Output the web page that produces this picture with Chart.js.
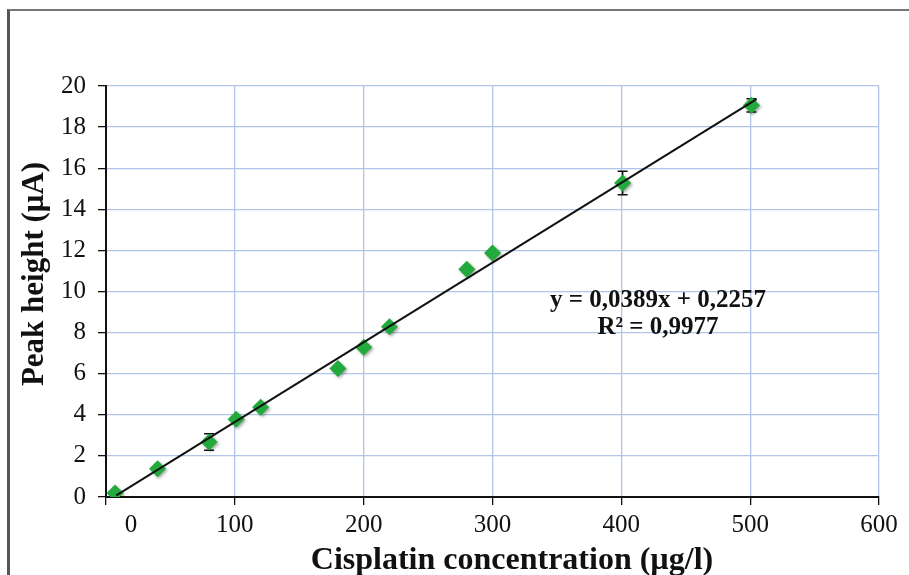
<!DOCTYPE html>
<html>
<head>
<meta charset="utf-8">
<script src="https://cdn.jsdelivr.net/npm/chart.js@4.4.1/dist/chart.umd.min.js"></script>
<style>
  html, body { margin: 0; padding: 0; background: #fff; }
  #wrap { position: relative; width: 909px; height: 575px; overflow: hidden; }
  #frame {
    position: absolute; left: 7px; top: 9px; width: 1000px; height: 700px;
    border-left: 3px solid #555; border-top: 2px solid #777;
  }
  canvas { position: absolute; left: 0; top: 0; }
</style>
</head>
<body>
<div id="wrap">
  <div id="frame"></div>
  <canvas id="calibChart" width="909" height="575"></canvas>
</div>
<script>
// Calibration data
const concentrations = [7, 40, 80, 101, 120, 180, 200, 220, 280, 300, 401, 501];
const peakHeights = [0.19, 1.38, 2.68, 3.78, 4.37, 6.25, 7.29, 8.29, 11.08, 11.87, 15.28, 19.06];
const peakErrors = [0, 0, 0.4, 0, 0, 0, 0, 0, 0, 0, 0.57, 0.32];

// Fitted line end points (as drawn)
const trendX = [8, 505];
const trendY = [0.08, 19.36];

// Axis ticks
const xTicks = [0, 100, 200, 300, 400, 500, 600];
const yTicks = [0, 2, 4, 6, 8, 10, 12, 14, 16, 18, 20];

const equationLines = ['y = 0,0389x + 0,2257', 'R\u00B2 = 0,9977'];
const xTitle = 'Cisplatin concentration (\u00B5g/l)';
const yTitle = 'Peak height (\u03BCA)';

const serif = "'Liberation Serif', 'Times New Roman', serif";
const gridBlue = '#b0c5e8';
const markerGreen = '#22aa3c';

// Error bars behind the markers, drawn through the scales
const errorBarPlugin = {
    id: 'errorBars',
    beforeDatasetsDraw(chart) {
        const { ctx, scales: { x, y } } = chart;
        ctx.save();
        ctx.strokeStyle = '#111';
        ctx.lineWidth = 1.5;
        concentrations.forEach((c, i) => {
            const e = peakErrors[i];
            if (!e) return;
            const px = x.getPixelForValue(c);
            const top = y.getPixelForValue(peakHeights[i] + e);
            const bot = y.getPixelForValue(peakHeights[i] - e);
            ctx.beginPath();
            ctx.moveTo(px, top); ctx.lineTo(px, bot);
            ctx.moveTo(px - 5, top); ctx.lineTo(px + 5, top);
            ctx.moveTo(px - 5, bot); ctx.lineTo(px + 5, bot);
            ctx.stroke();
        });
        ctx.restore();
    }
};

// Soft drop shadow under the markers
const shadowPlugin = {
    id: 'markerShadow',
    beforeDatasetDraw(chart, args) {
        if (args.index !== 0) return;
        const ctx = chart.ctx;
        ctx.save();
        ctx.shadowColor = 'rgba(0,0,0,0.35)';
        ctx.shadowBlur = 3;
        ctx.shadowOffsetX = 1.5;
        ctx.shadowOffsetY = 1.5;
    },
    afterDatasetDraw(chart, args) {
        if (args.index !== 0) return;
        chart.ctx.restore();
    }
};

// Axis titles and the regression equation
const textPlugin = {
    id: 'chartText',
    afterDraw(chart) {
        const ctx = chart.ctx;
        ctx.save();
        ctx.fillStyle = '#111';
        ctx.font = 'bold 32px ' + serif;
        ctx.textAlign = 'center';
        ctx.textBaseline = 'alphabetic';
        ctx.fillText(xTitle, 512, 569);

        ctx.font = 'bold 31px ' + serif;
        ctx.translate(43, 274);
        ctx.rotate(-Math.PI / 2);
        ctx.fillText(yTitle, 0, 0);
        ctx.restore();

        ctx.save();
        ctx.fillStyle = '#111';
        ctx.font = 'bold 25px ' + serif;
        ctx.textAlign = 'center';
        ctx.fillText(equationLines[0], 658, 307);
        ctx.fillText(equationLines[1], 658, 334);
        ctx.restore();
    }
};

function renderCalibrationChart() {
    const canvas = document.getElementById('calibChart');
    if (!canvas) return;
    const ctx = canvas.getContext('2d');

    new Chart(ctx, {
        type: 'scatter',
        data: {
            datasets: [{
                label: 'Peak height',
                data: concentrations.map((c, i) => ({ x: c, y: peakHeights[i] })),
                pointStyle: 'rectRot',
                pointRadius: 8.5,
                pointHoverRadius: 8.5,
                backgroundColor: markerGreen,
                borderColor: markerGreen,
                borderWidth: 0,
                order: 1
            }, {
                type: 'line',
                label: 'Linear fit',
                data: trendX.map((v, i) => ({ x: v, y: trendY[i] })),
                borderColor: '#111',
                borderWidth: 2,
                pointRadius: 0,
                fill: false,
                order: 0
            }]
        },
        options: {
            responsive: false,
            animation: false,
            layout: { padding: { left: 0, top: 86, right: 30, bottom: 0 } },
            plugins: {
                legend: { display: false },
                tooltip: { enabled: false }
            },
            scales: {
                x: {
                    type: 'linear',
                    min: 0,
                    max: 600,
                    afterFit: (s) => { s.height = 78; },
                    afterBuildTicks: (s) => { s.ticks = xTicks.map(v => ({ value: v })); },
                    ticks: {
                        padding: 5,
                        color: '#111',
                        font: { family: serif, size: 25 },
                        // the zero label sits a little right of the axis in the original
                        callback: (v) => v === 0 ? '\u2007\u2007\u2007\u20070' : String(v)
                    },
                    grid: { color: gridBlue, lineWidth: 1.3, tickColor: '#111', tickLength: 8 },
                    border: { color: '#111', width: 2 }
                },
                y: {
                    min: 0,
                    max: 20,
                    afterFit: (s) => { s.width = 106; },
                    afterBuildTicks: (s) => { s.ticks = yTicks.map(v => ({ value: v })); },
                    ticks: {
                        padding: 12,
                        color: '#111',
                        font: { family: serif, size: 25 }
                    },
                    grid: { color: gridBlue, lineWidth: 1.3, tickColor: '#111', tickLength: 8 },
                    border: { color: '#111', width: 2 }
                }
            }
        },
        plugins: [errorBarPlugin, shadowPlugin, textPlugin]
    });
}

renderCalibrationChart();
</script>
</body>
</html>
